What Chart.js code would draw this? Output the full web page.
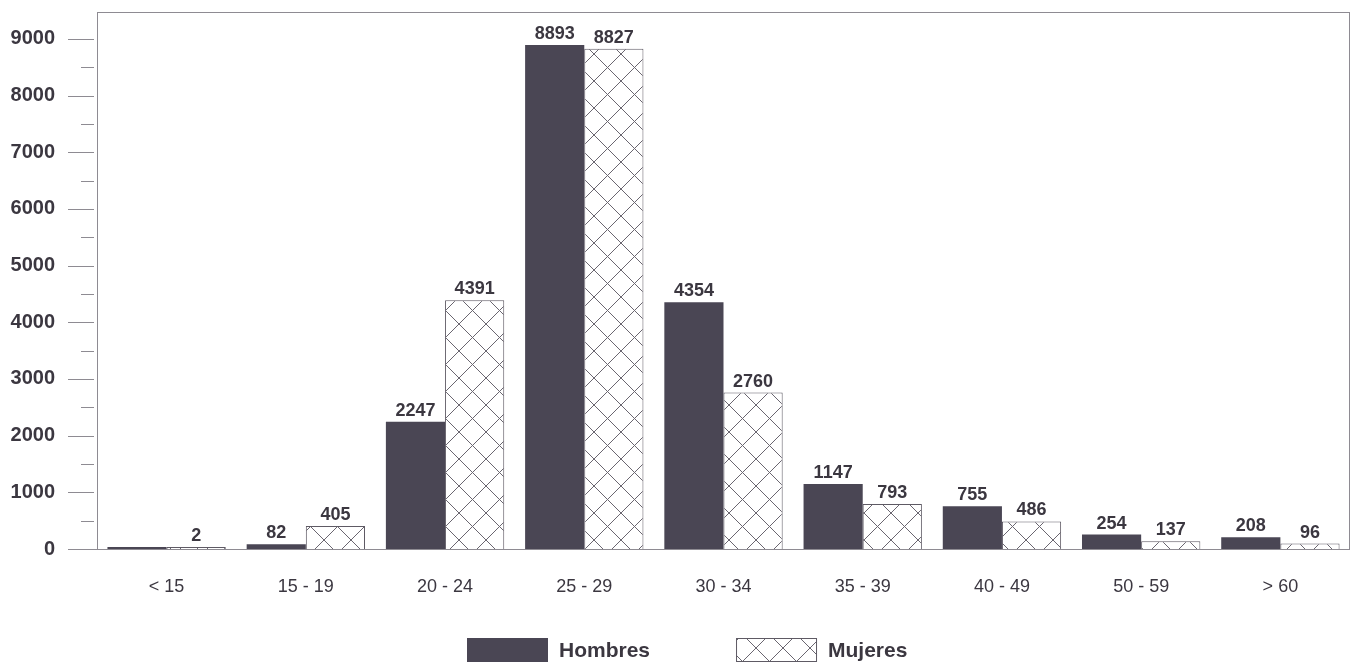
<!DOCTYPE html>
<html><head><meta charset="utf-8">
<script src="https://cdn.jsdelivr.net/npm/chart.js@4.4.1/dist/chart.umd.min.js"></script>
<style>html,body{margin:0;padding:0;background:#fff;}#wrap{width:1355px;height:667px;position:relative;}</style>
</head><body><div id="wrap"><canvas id="c"></canvas></div>
<script>
const categories = ['< 15', '15 - 19', '20 - 24', '25 - 29', '30 - 34', '35 - 39', '40 - 49', '50 - 59', '> 60'];
const hombres = [0, 82, 2247, 8893, 4354, 1147, 755, 254, 208];
const mujeres = [2, 405, 4391, 8827, 2760, 793, 486, 137, 96];
const seriesNames = ['Hombres', 'Mujeres'];
const yTicks = [0, 500, 1000, 1500, 2000, 2500, 3000, 3500, 4000, 4500, 5000, 5500, 6000, 6500, 7000, 7500, 8000, 8500, 9000];
const yMax = 9475;
const yLabelStep = 1000;

const TEXT = '#3b3740';
const FONT = '"Liberation Sans", Arial, Helvetica, sans-serif';

function hatch() {
  const s = 27;
  const c = document.createElement('canvas');
  c.width = s; c.height = s;
  const g = c.getContext('2d');
  g.fillStyle = '#ffffff'; g.fillRect(0, 0, s, s);
  g.strokeStyle = '#6a6670'; g.lineWidth = 1;
  g.beginPath();
  g.moveTo(0, 0); g.lineTo(s, s);
  g.moveTo(s, 0); g.lineTo(0, s);
  g.stroke();
  return g.createPattern(c, 'repeat');
}

const decor = {
  id: 'decor',
  beforeDatasetsDraw(chart) {
    const { ctx, chartArea: a, scales: { y } } = chart;
    ctx.save();
    ctx.strokeStyle = '#8e8b92';
    ctx.lineWidth = 1;
    ctx.strokeRect(Math.round(a.left) + 0.5, Math.round(a.top) + 0.5, Math.round(a.right - a.left) - 1, Math.round(a.bottom - a.top));
    y.ticks.forEach(t => {
      const py = Math.round(y.getPixelForValue(t.value)) + 0.5;
      const major = t.value % yLabelStep === 0;
      ctx.beginPath();
      ctx.moveTo(a.left - (major ? 29 : 16), py);
      ctx.lineTo(a.left - (t.value === 0 ? 0 : 3), py);
      ctx.stroke();
    });
    ctx.restore();
  },
  afterDatasetsDraw(chart) {
    const { ctx } = chart;
    ctx.save();
    ctx.fillStyle = TEXT;
    ctx.font = 'bold 18px ' + FONT;
    ctx.textAlign = 'center';
    ctx.textBaseline = 'bottom';
    chart.data.datasets.forEach((ds, di) => {
      const meta = chart.getDatasetMeta(di);
      meta.data.forEach((bar, i) => {
        const v = ds.data[i];
        if (!v) return;
        ctx.fillText(String(v), bar.x, bar.y - 2);
      });
    });
    ctx.restore();
  },
  afterDraw(chart) {
    const { ctx } = chart;
    const boxW = 81, boxH = 24, gap = 11, itemGap = 86, centerX = 687, boxTop = 638;
    ctx.save();
    ctx.font = 'bold 21px ' + FONT;
    const items = chart.data.datasets.map(ds => ({ ds, w: boxW + gap + ctx.measureText(ds.label).width }));
    const total = items.reduce((s, it) => s + it.w, 0) + itemGap * (items.length - 1);
    let x = Math.round(centerX - total / 2);
    items.forEach(({ ds, w }) => {
      ctx.fillStyle = ds.backgroundColor;
      ctx.fillRect(x, boxTop, boxW, boxH);
      if (ds.borderWidth) {
        ctx.strokeStyle = ds.borderColor; ctx.lineWidth = 1;
        ctx.strokeRect(x + 0.5, boxTop + 0.5, boxW - 1, boxH - 1);
      }
      ctx.fillStyle = TEXT;
      ctx.textAlign = 'left';
      ctx.textBaseline = 'middle';
      ctx.fillText(ds.label, x + boxW + gap, boxTop + boxH / 2 + 1);
      x += w + itemGap;
    });
    ctx.restore();
  }
};

new Chart(document.getElementById('c'), {
  type: 'bar',
  data: {
    labels: categories,
    datasets: [
      { label: seriesNames[0], data: hombres, backgroundColor: '#4a4654', borderColor: '#4a4654', borderWidth: 0, minBarLength: 2 },
      { label: seriesNames[1], data: mujeres, backgroundColor: hatch(), borderColor: '#5e5a64', borderWidth: 1, minBarLength: 2 }
    ]
  },
  options: {
    responsive: true,
    maintainAspectRatio: false,
    animation: false,
    events: [],
    layout: { padding: { left: 0, right: 5, top: 10, bottom: 60 } },
    datasets: { bar: { categoryPercentage: 0.85, barPercentage: 1.0 } },
    plugins: {
      tooltip: { enabled: false },
      legend: { display: false }
    },
    scales: {
      x: {
        grid: { display: false, drawTicks: false },
        border: { display: false },
        ticks: { color: TEXT, padding: 27, autoSkip: false, maxRotation: 0, font: { family: FONT, size: 18 } },
        afterFit(s) { s.height = 58; }
      },
      y: {
        min: 0, max: yMax,
        grid: { display: false, drawTicks: true, tickLength: 42, tickColor: 'rgba(0,0,0,0)' },
        border: { display: false },
        afterBuildTicks(s) { s.ticks = yTicks.map(v => ({ value: v })); },
        ticks: {
          autoSkip: false, padding: 0, color: TEXT,
          font: { family: FONT, size: 20, weight: 'bold' },
          callback: v => (v % yLabelStep === 0 ? String(v) : '')
        },
        afterFit(s) { s.width = 97; }
      }
    }
  },
  plugins: [decor]
});
</script></body></html>
